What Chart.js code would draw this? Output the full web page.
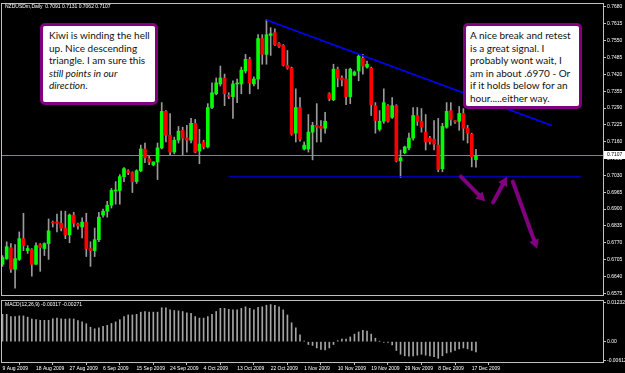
<!DOCTYPE html>
<html>
<head>
<meta charset="utf-8">
<script src="https://cdn.jsdelivr.net/npm/chart.js@4.4.0/dist/chart.umd.min.js"></script>
<style>
    html, body { margin: 0; padding: 0; background: #000; }
    #wrap { position: relative; width: 625px; height: 373px; overflow: hidden; background: #000; }
    canvas { position: absolute; left: 0; }
    #main { top: 0; }
    #macd { top: 297px; }
    .note {
        position: absolute; box-sizing: border-box; background: #fff;
        border: 3px solid #800080; border-radius: 5px;
        font-family: Lato, "Open Sans", sans-serif; font-size: 10px; line-height: 12.6px; color: #111;
        white-space: nowrap;
    }
    .lbl { position: absolute; color: #fff; font-family: "Liberation Sans", Arial, sans-serif; font-size: 5px; white-space: pre; }
</style>
</head>
<body>
<div id="wrap">
    <canvas id="main" width="625" height="299"></canvas>
    <canvas id="macd" width="625" height="76"></canvas>
    <div class="lbl" style="left:5px;top:3px;">NZDUSDm,Daily  0.7091 0.7131 0.7062 0.7107</div>
    <div class="lbl" style="left:5px;top:301px;">MACD(12,26,9) -0.00317 -0.00271</div>
    <div class="note" style="left:40px;top:23px;width:118px;height:82px;padding:3px 0 0 6px;">
        Kiwi is winding the hell<br>up. Nice descending<br>triangle. I am sure this<br><i>still points in our</i><br><i>direction</i>.
    </div>
    <div class="note" style="left:463px;top:23px;width:119px;height:86px;padding:3px 0 0 4px;">
        A nice break and retest<br>is a great signal. I<br>probably wont wait, I<br>am in about .6970 - Or<br>if it holds below for an<br>hour.....either way.
    </div>
</div>
<script>
// NZDUSD daily, 9 Aug 2009 .. 18 Dec 2009 (one value per bar)
const opens = [
    .6687,.6709,.6751,.6668,.6706,.6786,.6740,.6744,.6687,.6763,
    .6748,.6767,.6850,.6850,.6846,.6827,.6801,.6877,.6843,.6831,
    .6850,.6748,.6740,.6782,.6877,.6892,.6915,.6970,.6972,.7025,
    .7048,.7041,.7006,.7048,.7132,.7094,.7071,.7082,.7136,.7277,
    .7185,.7120,.7166,.7204,.7174,.7166,.7231,.7124,.7159,.7140,
    .7292,.7345,.7383,.7406,.7339,.7334,.7383,.7383,.7433,.7478,
    .7383,.7402,.7558,.7497,.7570,.7581,.7539,.7532,.7455,.7444,
    .7193,.7292,.7132,.7132,.7197,.7223,.7219,.7212,.7345,.7322,
    .7440,.7406,.7402,.7334,.7417,.7433,.7482,.7448,.7444,.7299,
    .7208,.7239,.7299,.7254,.7299,.7086,.7117,.7136,.7174,.7261,
    .7239,.7197,.7174,.7170,.7147,.7056,.7216,.7280,.7241,.7239,
    .7269,.7212,.7189,.7091
];
const highs = [
    .6721,.6774,.6767,.6763,.6812,.6884,.6759,.6748,.6770,.6767,
    .6770,.6862,.6854,.6881,.6892,.6892,.6881,.6888,.6846,.6866,
    .6884,.6774,.6827,.6888,.6900,.6930,.6980,.7006,.7033,.7060,
    .7052,.7044,.7052,.7147,.7155,.7105,.7082,.7155,.7311,.7280,
    .7269,.7178,.7219,.7216,.7223,.7250,.7246,.7208,.7166,.7307,
    .7387,.7406,.7452,.7421,.7349,.7395,.7402,.7448,.7497,.7486,
    .7410,.7573,.7573,.7630,.7600,.7596,.7543,.7535,.7512,.7448,
    .7364,.7330,.7159,.7265,.7235,.7307,.7242,.7273,.7349,.7459,
    .7448,.7414,.7440,.7444,.7433,.7497,.7497,.7471,.7448,.7311,
    .7280,.7364,.7303,.7330,.7303,.7128,.7143,.7193,.7292,.7292,
    .7288,.7265,.7181,.7242,.7250,.7231,.7311,.7311,.7242,.7296,
    .7288,.7223,.7193,.7131
];
const lows = [
    .6679,.6706,.6656,.6595,.6702,.6740,.6729,.6641,.6687,.6660,
    .6721,.6706,.6831,.6812,.6816,.6786,.6770,.6831,.6823,.6789,
    .6717,.6679,.6717,.6774,.6869,.6869,.6904,.6919,.6919,.7006,
    .7033,.6964,.6999,.7044,.7079,.7071,.7067,.7014,.7132,.7159,
    .7109,.7113,.7155,.7109,.7120,.7155,.7117,.7075,.7132,.7136,
    .7288,.7341,.7375,.7299,.7326,.7250,.7311,.7345,.7425,.7345,
    .7375,.7364,.7459,.7459,.7493,.7532,.7524,.7452,.7440,.7185,
    .7159,.7162,.7128,.7120,.7090,.7159,.7159,.7193,.7318,.7318,
    .7372,.7375,.7303,.7307,.7414,.7395,.7421,.7444,.7261,.7193,
    .7201,.7231,.7235,.7250,.7082,.7022,.7113,.7128,.7166,.7223,
    .7197,.7128,.7151,.7128,.7044,.7044,.7212,.7223,.7231,.7204,
    .7166,.7155,.7063,.7062
];
const closes = [
    .6713,.6755,.6668,.6709,.6786,.6759,.6748,.6687,.6759,.6751,
    .6767,.6816,.6846,.6846,.6827,.6801,.6877,.6846,.6835,.6850,
    .6748,.6740,.6782,.6869,.6892,.6915,.6972,.6974,.7025,.7056,
    .7041,.7006,.7048,.7132,.7098,.7082,.7082,.7136,.7277,.7185,
    .7120,.7166,.7201,.7174,.7166,.7231,.7120,.7151,.7140,.7292,
    .7349,.7387,.7406,.7345,.7335,.7383,.7385,.7436,.7478,.7387,
    .7402,.7558,.7497,.7573,.7577,.7535,.7528,.7455,.7444,.7189,
    .7292,.7170,.7147,.7197,.7223,.7216,.7212,.7239,.7326,.7440,
    .7406,.7398,.7334,.7440,.7429,.7490,.7452,.7459,.7303,.7242,
    .7239,.7311,.7239,.7299,.7086,.7098,.7140,.7174,.7261,.7239,
    .7216,.7159,.7159,.7151,.7052,.7219,.7277,.7246,.7237,.7269,
    .7212,.7193,.7101,.7107
];
const macdHist = [
    .0087,.0087,.0080,.0080,.0082,.0082,.0078,.0072,.0070,.0068,
    .0068,.0068,.0073,.0075,.0073,.0072,.0073,.0072,.0067,.0063,
    .0057,.0046,.0041,.0044,.0049,.0052,.0058,.0063,.0070,.0080,
    .0085,.0085,.0087,.0094,.0096,.0094,.0094,.0094,.0108,.0108,
    .0101,.0099,.0098,.0096,.0092,.0090,.0080,.0075,.0075,.0080,
    .0087,.0096,.0106,.0106,.0103,.0101,.0101,.0106,.0111,.0106,
    .0101,.0109,.0111,.0116,.0118,.0116,.0111,.0101,.0085,.0060,
    .0044,.0022,.0002,-.0009,-.0012,-.0020,-.0025,-.0026,-.0020,-.0009,
    .0003,.0008,.0008,.0015,.0024,.0031,.0036,.0034,.0024,.0011,
    .0001,-.0002,-.0002,-.0010,-.0028,-.0040,-.0045,-.0046,-.0045,-.0043,
    -.0040,-.0043,-.0045,-.0048,-.0053,-.0045,-.0036,-.0033,-.0028,-.0023,
    -.0020,-.0023,-.0028,-.0033
];

// axis ticks
const dateTicks = [0, 8, 16, 24, 32, 40, 48, 56, 64, 72, 80, 88, 96, 104, 112];
const dateLabels = ['9 Aug 2009', '18 Aug 2009', '27 Aug 2009', '6 Sep 2009', '15 Sep 2009', '24 Sep 2009',
    '4 Oct 2009', '13 Oct 2009', '22 Oct 2009', '1 Nov 2009', '10 Nov 2009', '19 Nov 2009',
    '29 Nov 2009', '8 Dec 2009', '17 Dec 2009'];
const priceTicks = [0.7680, 0.7615, 0.7550, 0.7485, 0.7420, 0.7355, 0.7290, 0.7225, 0.7160, 0.7095,
    0.7030, 0.6965, 0.6900, 0.6835, 0.6770, 0.6705, 0.6640, 0.6575];
const macdTicks = [0.01232, 0, -0.00612];

// drawn objects (bar index, price)
const trendX = [63, 131.1];
const trendY = [0.7630, 0.7223];
const supportX = [54, 138.1];
const supportY = [0.7025, 0.7025];
const arrowFromX = [109.4, 117.1, 121.8];
const arrowFromY = [0.7025, 0.6926, 0.7006];
const arrowToX = [115.2, 120.4, 127.6];
const arrowToY = [0.6930, 0.7025, 0.6747];

const X_MIN = -0.12, X_MAX = 143.32;
const FRAME = '#c0c0c0';
const TXT = '#ffffff';

const framePlugin = {
    id: 'frame',
    afterDraw(chart) {
        const { ctx, chartArea: a } = chart;
        ctx.save();
        ctx.strokeStyle = FRAME;
        ctx.lineWidth = 1;
        ctx.strokeRect(a.left - 0.5, a.top - 0.5, a.right - a.left + 1, a.bottom - a.top + 1);
        ctx.restore();
    }
};

const arrowPlugin = {
    id: 'arrows',
    afterDatasetsDraw(chart) {
        const { ctx, scales: { x, y } } = chart;
        ctx.save();
        ctx.strokeStyle = '#800080';
        ctx.fillStyle = '#800080';
        ctx.lineWidth = 4;
        ctx.lineCap = 'round';
        arrowFromX.forEach((fx, i) => {
            const x1 = x.getPixelForValue(fx), y1 = y.getPixelForValue(arrowFromY[i]);
            const x2 = x.getPixelForValue(arrowToX[i]), y2 = y.getPixelForValue(arrowToY[i]);
            const ang = Math.atan2(y2 - y1, x2 - x1);
            const head = 9;
            const bx = x2 - Math.cos(ang) * head, by = y2 - Math.sin(ang) * head;
            ctx.beginPath();
            ctx.moveTo(x1, y1);
            ctx.lineTo(bx, by);
            ctx.stroke();
            ctx.beginPath();
            ctx.moveTo(x2, y2);
            ctx.lineTo(bx + Math.cos(ang + Math.PI / 2) * 5, by + Math.sin(ang + Math.PI / 2) * 5);
            ctx.lineTo(bx + Math.cos(ang - Math.PI / 2) * 5, by + Math.sin(ang - Math.PI / 2) * 5);
            ctx.closePath();
            ctx.fill();
        });
        ctx.restore();
    }
};

const bidPlugin = {
    id: 'bid',
    beforeDatasetsDraw(chart) {
        const { ctx, chartArea: a, scales: { y } } = chart;
        const py = Math.round(y.getPixelForValue(closes[closes.length - 1])) + 0.5;
        ctx.save();
        ctx.strokeStyle = '#7d8790';
        ctx.lineWidth = 1;
        ctx.beginPath();
        ctx.moveTo(a.left, py);
        ctx.lineTo(a.right, py);
        ctx.stroke();
        ctx.restore();
    },
    afterDraw(chart) {
        const { ctx, chartArea: a, scales: { y } } = chart;
        const py = Math.round(y.getPixelForValue(closes[closes.length - 1]));
        ctx.save();
        ctx.fillStyle = '#ffffff';
        ctx.fillRect(a.right + 1, py - 4, 21, 8);
        ctx.fillStyle = '#000';
        ctx.font = '5px "Liberation Sans", Arial, sans-serif';
        ctx.textBaseline = 'middle';
        ctx.fillText(closes[closes.length - 1].toFixed(4), a.right + 4, py);
        ctx.restore();
    }
};

const bars = opens.map((o, i) => i);

new Chart(document.getElementById('main'), {
    type: 'bar',
    data: {
        datasets: [
            {
                type: 'line', order: -1,
                data: trendX.map((v, i) => ({ x: v, y: trendY[i] })),
                borderColor: '#0000ff', borderWidth: 1.6, pointRadius: 0
            },
            {
                type: 'line', order: -1,
                data: supportX.map((v, i) => ({ x: v, y: supportY[i] })),
                borderColor: '#0000e0', borderWidth: 1, pointRadius: 0
            },
            {
                order: 0, grouped: false, barThickness: 3, minBarLength: 1,
                data: bars.map(i => ({ x: i, y: [opens[i], closes[i]] })),
                backgroundColor: bars.map(i => closes[i] >= opens[i] ? '#00ff00' : '#ff0000')
            },
            {
                order: 1, grouped: false, barThickness: 1,
                data: bars.map(i => ({ x: i, y: [lows[i], highs[i]] })),
                backgroundColor: '#9a9a9a'
            }
        ]
    },
    options: {
        responsive: false, animation: false, devicePixelRatio: 1,
        layout: { padding: { left: 2, top: 2, bottom: 2, right: 0 } },
        plugins: { legend: { display: false }, tooltip: { enabled: false } },
        scales: {
            x: { type: 'linear', min: X_MIN, max: X_MAX, offset: false, display: false },
            y: {
                position: 'right', min: 0.65686, max: 0.76914,
                afterBuildTicks: s => { s.ticks = priceTicks.map(v => ({ value: v })); },
                afterFit: s => { s.width = 22; },
                ticks: { color: TXT, font: { size: 5, family: '"Liberation Sans", Arial, sans-serif' }, padding: 1,
                    callback: v => v.toFixed(4) },
                grid: { drawOnChartArea: false, tickLength: 3, color: FRAME },
                border: { color: FRAME }
            }
        }
    },
    plugins: [bidPlugin, arrowPlugin, framePlugin]
});

new Chart(document.getElementById('macd'), {
    type: 'bar',
    data: {
        datasets: [{
            grouped: false, barThickness: 1,
            data: bars.map(i => ({ x: i, y: macdHist[i] })),
            backgroundColor: '#a4a4a4'
        }]
    },
    options: {
        responsive: false, animation: false, devicePixelRatio: 1,
        layout: { padding: { left: 2, top: 2, bottom: 0, right: 0 } },
        plugins: { legend: { display: false }, tooltip: { enabled: false } },
        scales: {
            x: {
                type: 'linear', min: X_MIN, max: X_MAX, offset: false,
                afterBuildTicks: s => { s.ticks = dateTicks.map(v => ({ value: v })); },
                afterFit: s => { s.height = 11; },
                ticks: { color: TXT, font: { size: 5, family: '"Liberation Sans", Arial, sans-serif' }, padding: 1,
                    align: 'start', autoSkip: false, maxRotation: 0,
                    callback: v => dateLabels[dateTicks.indexOf(v)] },
                grid: { drawOnChartArea: false, tickLength: 3, color: FRAME },
                border: { color: FRAME }
            },
            y: {
                position: 'right', min: -0.00647, max: 0.01294,
                afterBuildTicks: s => { s.ticks = macdTicks.map(v => ({ value: v })); },
                afterFit: s => { s.width = 22; },
                ticks: { color: TXT, font: { size: 5, family: '"Liberation Sans", Arial, sans-serif' }, padding: 1,
                    callback: v => v === 0 ? '0.00' : v.toFixed(5) },
                grid: { drawOnChartArea: false, tickLength: 3, color: FRAME },
                border: { color: FRAME }
            }
        }
    },
    plugins: [framePlugin]
});
</script>
</body>
</html>
